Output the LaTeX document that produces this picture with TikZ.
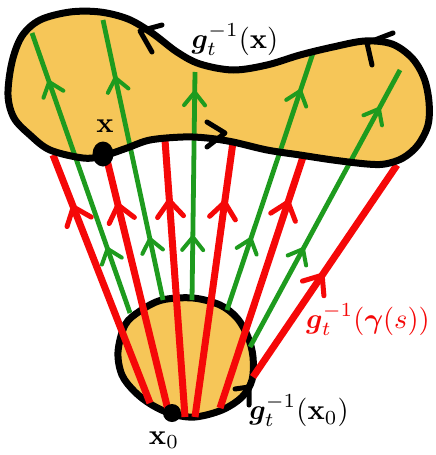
\documentclass[tikz,border=0pt]{standalone}
\usepackage{amsmath,bm}
\usetikzlibrary{arrows.meta,decorations.markings,shapes.geometric}
\definecolor{blobfill}{RGB}{246,198,88}
\definecolor{myred}{RGB}{245,8,8}
\definecolor{mygreen}{RGB}{30,155,30}
\tikzset{
  outline/.style={line width=7pt, line join=round, line cap=round, black},
  chev/.style={line width=5pt, line cap=round, line join=round, black},
  redray/.style={myred, line width=7pt},
  greenray/.style={mygreen, line width=4.8pt},
  redbarb/.tip={Straight Barb[length=16pt,width=26pt,line width=5pt,round]},
  greenbarb/.tip={Straight Barb[length=13pt,width=21pt,line width=4pt,round]},
  rarrow/.style={postaction={decorate, decoration={markings, mark=at position #1 with {\arrow{redbarb}}}}},
  garrow/.style={postaction={decorate, decoration={markings, mark=at position #1 with {\arrow{greenbarb}}}}},
  lbl/.style={inner sep=0pt, scale=2.85},
}
\begin{document}
\begin{tikzpicture}[x=1pt,y=-1pt]
\useasboundingbox (0,0) rectangle (436,455);
% top blob fill
\path[fill=blobfill] plot[smooth cycle, tension=0.55] coordinates {
 (8,95) (12,62) (22,36) (40,20) (70,12) (100,12) (128,19) (152,33) (177,52) (200,64)
 (233,70) (267,65) (300,55) (333,47) (365,41) (392,44) (412,58) (424,78) (429,102)
 (428,125) (418,145) (403,158) (385,164) (367,164) (333,160) (300,155) (267,150)
 (233,142) (207,138) (183,137) (150,140) (127,148) (103,156) (83,158) (50,150)
 (30,135) (14,118)};
% small blob
\draw[outline, fill=blobfill] plot[smooth cycle, tension=0.55] coordinates {
 (118,352) (125,325) (140,311) (162,300) (193,298) (220,305) (237,318) (248,337)
 (253,357) (252,380) (242,397) (222,410) (195,417) (172,414) (152,405) (135,392) (122,375)};
% small blob chevron
\draw[chev] (235,389) -- (249,387) -- (249,405);
% named end points
\coordinate (g1b) at (130,313); \coordinate (g1t) at (32,33);
\coordinate (g2b) at (163,300); \coordinate (g2t) at (103,20);
\coordinate (g3b) at (192,300); \coordinate (g3t) at (195,72);
\coordinate (g4b) at (227,310); \coordinate (g4t) at (313,53);
\coordinate (g5b) at (250,347); \coordinate (g5t) at (400,70);
\coordinate (r1b) at (150,403); \coordinate (r1t) at (53,155);
\coordinate (r2b) at (168,410); \coordinate (r2t) at (107,160);
\coordinate (r3b) at (185,417); \coordinate (r3t) at (165,140);
\coordinate (r4b) at (195,417); \coordinate (r4t) at (233,142);
\coordinate (r5b) at (220,408); \coordinate (r5t) at (303,157);
\coordinate (r6b) at (253,377); \coordinate (r6t) at (397,165);
% green rays
\draw[greenray, garrow=0.236, garrow=0.832] (g1b) -- (g1t);
\draw[greenray, garrow=0.225, garrow=0.80] (g2b) -- (g2t);
\draw[greenray, garrow=0.285, garrow=0.92] (g3b) -- (g3t);
\draw[greenray, garrow=0.284, garrow=0.86] (g4b) -- (g4t);
\draw[greenray, garrow=0.36, garrow=0.866] (g5b) -- (g5t);
% red rays
\draw[redray, rarrow=0.80] (r1b) -- (r1t);
\draw[redray, rarrow=0.83] (r2b) -- (r2t);
\draw[redray, rarrow=0.79] (r3b) -- (r3t);
\draw[redray, rarrow=0.79] (r4b) -- (r4t);
\draw[redray, rarrow=0.83] (r5b) -- (r5t);
\draw[redray, rarrow=0.49] (r6b) -- (r6t);
% top blob outline
\draw[outline] plot[smooth cycle, tension=0.55] coordinates {
 (8,95) (12,62) (22,36) (40,20) (70,12) (100,12) (128,19) (152,33) (177,52) (200,64)
 (233,70) (267,65) (300,55) (333,47) (365,41) (392,44) (412,58) (424,78) (429,102)
 (428,125) (418,145) (403,158) (385,164) (367,164) (333,160) (300,155) (267,150)
 (233,142) (207,138) (183,137) (150,140) (127,148) (103,156) (83,158) (50,150)
 (30,135) (14,118)};
% chevrons on top blob
\draw[chev] (162,25) -- (140,31) -- (152,52);
\draw[chev] (393,33) -- (367,43) -- (372,65);
\draw[chev] (207,122) -- (225,133) -- (207,147);
% points
\node[ellipse, fill=black, minimum width=21pt, minimum height=25pt, inner sep=0pt] (xpt) at (103,154) {};
\node[circle, fill=black, minimum size=18pt, inner sep=0pt] (x0pt) at (172,413) {};
% labels
\node[lbl] (lx) at (105,126) {$\mathbf{x}$};
\node[lbl] (lgx) at (235,40) {$\boldsymbol{g}_t^{-1}(\mathbf{x})$};
\node[lbl, text=myred] (lgg) at (368,320) {$\boldsymbol{g}_t^{-1}(\boldsymbol{\gamma}(s))$};
\node[lbl] (lgx0) at (299,411) {$\boldsymbol{g}_t^{-1}(\mathbf{x}_0)$};
\node[lbl] (lx0) at (164,440) {$\mathbf{x}_0$};
\end{tikzpicture}
\end{document}
